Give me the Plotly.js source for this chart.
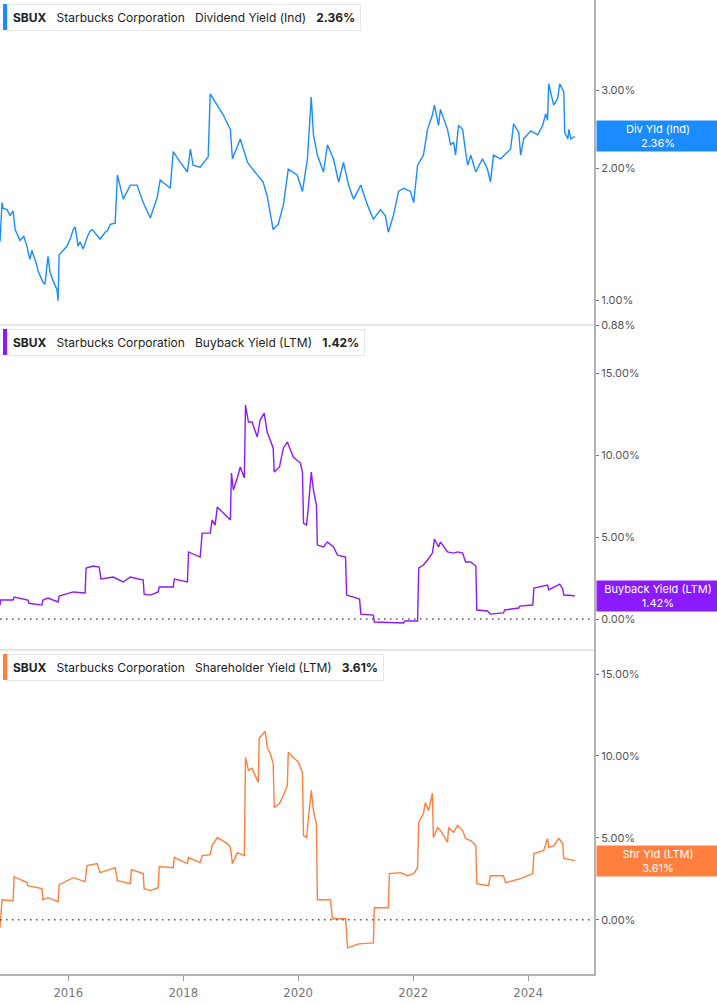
<!DOCTYPE html>
<html>
<head>
<meta charset="utf-8">
<script src="https://cdn.plot.ly/plotly-3.0.1.min.js"></script>
<style>
  html, body { margin: 0; padding: 0; background: #ffffff; }
  #chart { width: 717px; height: 1005px; }
</style>
</head>
<body>
<div id="chart"></div>
<script>
// ---------- DATA ----------
const ticker = 'SBUX';
const company = 'Starbucks Corporation';

const divDates = ['2014-10-24','2014-11-06','2014-11-13','2014-12-08','2014-12-27','2015-01-15','2015-01-28','2015-02-28','2015-03-24','2015-04-13','2015-05-02','2015-05-15','2015-06-16','2015-06-22','2015-07-24','2015-08-06','2015-08-25','2015-09-07','2015-09-26','2015-10-21','2015-10-28','2015-11-04','2015-11-29','2015-12-24','2016-01-13','2016-02-02','2016-02-14','2016-03-03','2016-03-16','2016-04-04','2016-04-29','2016-05-18','2016-06-01','2016-07-02','2016-07-21','2016-08-22','2016-09-05','2016-09-24','2016-10-25','2016-11-08','2016-12-15','2017-01-29','2017-03-13','2017-04-21','2017-06-05','2017-07-18','2017-08-07','2017-10-10','2017-10-29','2017-12-13','2018-01-02','2018-01-27','2018-02-15','2018-03-04','2018-04-18','2018-06-08','2018-06-21','2018-08-05','2018-09-12','2018-10-27','2018-11-09','2018-12-29','2019-02-13','2019-04-16','2019-05-23','2019-06-18','2019-07-26','2019-08-27','2019-09-29','2019-10-30','2019-12-26','2020-01-28','2020-02-29','2020-03-24','2020-04-07','2020-05-02','2020-06-10','2020-07-05','2020-08-12','2020-09-14','2020-10-15','2020-11-16','2020-12-18','2021-02-02','2021-03-16','2021-04-23','2021-06-07','2021-07-08','2021-07-27','2021-08-28','2021-09-30','2021-11-01','2021-12-15','2022-01-04','2022-01-29','2022-03-07','2022-04-02','2022-05-03','2022-05-16','2022-06-11','2022-06-23','2022-08-07','2022-08-26','2022-09-15','2022-09-27','2022-10-16','2022-11-11','2022-11-30','2022-12-13','2023-01-02','2023-02-03','2023-03-17','2023-04-18','2023-05-07','2023-05-26','2023-07-10','2023-08-24','2023-09-12','2023-10-01','2023-11-03','2023-11-15','2023-12-04','2024-01-18','2024-03-02','2024-04-03','2024-04-22','2024-05-04','2024-05-11','2024-06-12','2024-07-07','2024-07-20','2024-08-15','2024-08-21','2024-09-10','2024-09-16','2024-09-29','2024-10-24'];
const divYield = [1.36,1.67,1.62,1.61,1.56,1.60,1.45,1.37,1.40,1.33,1.24,1.30,1.20,1.17,1.10,1.09,1.26,1.16,1.11,1.06,1.00,1.27,1.30,1.33,1.38,1.45,1.47,1.33,1.36,1.31,1.39,1.44,1.45,1.41,1.38,1.43,1.44,1.49,1.50,1.93,1.70,1.83,1.83,1.67,1.54,1.71,1.88,1.80,2.18,2.06,2.01,1.96,2.21,2.03,2.01,2.12,2.95,2.78,2.64,2.45,2.10,2.33,2.06,1.93,1.86,1.73,1.45,1.49,1.65,1.99,1.93,1.77,2.10,2.90,2.38,2.14,1.96,2.26,2.10,1.86,2.06,1.83,1.70,1.83,1.65,1.53,1.61,1.56,1.43,1.56,1.77,1.80,1.77,1.67,2.03,2.14,2.45,2.64,2.78,2.50,2.72,2.45,2.26,2.29,2.14,2.50,2.45,2.18,2.03,2.14,1.96,2.10,1.99,1.86,2.14,2.10,2.18,2.21,2.52,2.41,2.14,2.33,2.43,2.38,2.50,2.66,2.57,3.11,2.78,2.88,3.11,2.98,2.41,2.33,2.45,2.33,2.36];

const buyDates = ['2014-10-24','2014-10-28','2015-01-15','2015-01-22','2015-04-19','2015-04-26','2015-07-17','2015-07-24','2015-08-25','2015-10-28','2015-11-04','2016-02-02','2016-04-17','2016-04-23','2016-06-07','2016-07-15','2016-07-27','2016-10-13','2016-12-15','2017-01-29','2017-04-21','2017-04-27','2017-06-05','2017-07-25','2017-08-01','2017-10-29','2017-11-05','2018-01-27','2018-02-03','2018-04-18','2018-05-01','2018-06-21','2018-07-03','2018-07-22','2018-08-05','2018-09-25','2018-10-27','2018-11-03','2018-11-15','2018-12-10','2018-12-29','2019-01-24','2019-01-31','2019-02-19','2019-03-14','2019-04-16','2019-05-04','2019-05-30','2019-06-18','2019-07-26','2019-08-02','2019-09-04','2019-09-29','2019-10-24','2019-12-01','2020-01-15','2020-01-28','2020-02-04','2020-02-23','2020-03-06','2020-03-24','2020-04-07','2020-04-26','2020-05-02','2020-06-10','2020-07-05','2020-08-12','2020-09-07','2020-10-28','2020-11-04','2021-01-25','2021-02-02','2021-04-23','2021-04-29','2021-11-01','2021-11-08','2022-01-29','2022-02-05','2022-03-07','2022-04-02','2022-05-03','2022-05-16','2022-06-11','2022-06-23','2022-08-07','2022-09-15','2022-10-10','2022-11-11','2022-11-30','2023-01-02','2023-02-03','2023-02-09','2023-04-18','2023-05-07','2023-07-29','2023-08-05','2023-11-03','2023-11-09','2024-01-31','2024-02-07','2024-05-04','2024-05-11','2024-06-12','2024-07-20','2024-08-08','2024-08-15','2024-10-24'];
const buybackYield = [0.85,1.16,1.16,1.34,1.16,0.96,0.85,1.16,1.28,1.04,1.40,1.65,1.59,3.11,3.23,3.17,2.44,2.56,2.26,2.56,2.38,1.52,1.46,1.65,1.95,1.95,2.44,2.26,4.09,3.78,5.24,5.24,6.04,5.73,6.83,6.34,6.04,8.90,7.87,8.60,9.27,8.60,13.05,12.01,12.01,11.10,12.13,12.56,11.40,10.43,8.96,9.27,10.43,10.79,9.88,9.51,8.96,5.85,5.73,6.83,8.96,7.87,6.95,4.51,4.39,4.70,4.39,3.90,3.78,1.46,1.22,0.30,0.24,-0.18,-0.24,-0.12,-0.12,3.11,3.29,3.60,4.02,4.88,4.39,4.70,4.09,4.02,4.09,4.02,3.48,3.48,3.23,0.55,0.49,0.30,0.37,0.55,0.67,0.79,0.85,1.89,2.07,1.77,1.95,2.13,1.83,1.46,1.42];

const shrDates = ['2014-10-24','2014-11-06','2015-01-15','2015-01-22','2015-04-13','2015-04-19','2015-07-17','2015-07-24','2015-08-25','2015-10-28','2015-11-04','2016-02-02','2016-04-17','2016-04-29','2016-07-02','2016-07-21','2016-10-25','2016-11-08','2017-01-29','2017-02-05','2017-04-21','2017-04-27','2017-06-05','2017-07-25','2017-08-01','2017-10-29','2017-11-05','2018-01-27','2018-02-03','2018-04-18','2018-05-01','2018-06-21','2018-07-03','2018-08-05','2018-10-08','2018-10-27','2018-11-09','2018-12-10','2019-01-24','2019-01-31','2019-02-19','2019-03-14','2019-04-16','2019-04-22','2019-04-28','2019-05-23','2019-06-06','2019-06-18','2019-07-07','2019-07-26','2019-08-02','2019-09-04','2019-09-29','2019-10-24','2019-10-30','2019-12-01','2020-01-03','2020-01-28','2020-02-04','2020-02-23','2020-03-06','2020-03-24','2020-04-07','2020-04-26','2020-05-02','2020-07-24','2020-08-06','2020-10-28','2020-11-10','2021-01-19','2021-04-23','2021-04-29','2021-07-27','2021-08-03','2021-10-12','2021-11-26','2022-01-04','2022-01-29','2022-02-05','2022-03-07','2022-03-19','2022-04-08','2022-05-03','2022-05-09','2022-06-05','2022-06-23','2022-08-07','2022-08-14','2022-09-15','2022-10-10','2022-11-11','2022-11-30','2023-01-02','2023-02-03','2023-02-09','2023-04-24','2023-05-07','2023-07-29','2023-08-11','2023-11-15','2024-01-31','2024-02-07','2024-04-09','2024-05-04','2024-05-11','2024-06-12','2024-07-14','2024-08-08','2024-08-15','2024-10-24'];
const shareholderYield = [-0.49,1.22,1.16,2.63,2.27,2.08,1.90,1.22,1.35,1.10,2.14,2.57,2.33,3.31,3.43,2.88,3.18,2.39,2.20,3.06,2.82,1.90,1.78,1.96,3.25,3.18,3.80,3.43,3.80,3.49,3.92,3.98,4.53,5.02,4.65,4.41,3.43,4.10,3.92,9.92,9.12,9.25,8.51,8.39,11.08,11.39,11.51,10.53,10.17,9.55,6.86,7.10,7.59,8.21,10.23,9.92,9.61,9.00,5.14,5.02,6.18,7.90,6.67,5.88,1.22,1.22,0.06,0.06,-1.71,-1.47,-1.41,0.73,0.73,2.82,2.88,2.69,2.82,3.18,5.94,6.49,7.16,6.67,7.72,5.02,5.63,5.45,4.72,5.63,5.33,5.76,5.45,4.96,4.84,4.53,2.20,2.08,2.69,2.69,2.27,2.51,2.82,4.04,4.23,4.96,4.41,4.53,4.96,4.65,3.74,3.61];

const seriesNames = ['Dividend Yield (Ind)', 'Buyback Yield (LTM)', 'Shareholder Yield (LTM)'];
const badgeNames = ['Div Yld (Ind)', 'Buyback Yield (LTM)', 'Shr Yld (LTM)'];
const lastValues = [2.36, 1.42, 3.61];

const yearTickVals = ['2016-01-01','2018-01-01','2020-01-01','2022-01-01','2024-01-01'];
const yearTickText = ['2016','2018','2020','2022','2024'];
const divTickVals = [0.88, 1, 2, 3];
const divTickText = ['0.88%','1.00%','2.00%','3.00%'];
const pctTickVals = [0, 5, 10, 15];
const pctTickText = ['0.00%','5.00%','10.00%','15.00%'];

// ---------- STYLE ----------
const colors = ['#1a8cff', '#8c1aff', '#ff7f3f'];
const W = 717, H = 1005;
const plotW = 594, plotH = 974;
const sep1 = 1 - 325 / plotH, sep2 = 1 - 650 / plotH;
const tickFont = {family: 'Inter, "Noto Sans", sans-serif', size: 11, color: '#555555'};

function yAxis(extra) {
  return Object.assign({
    side: 'right', anchor: 'x', showgrid: false, zeroline: false,
    showline: true, linecolor: '#b3b3b3', linewidth: 2,
    ticks: 'outside', ticklen: 3, tickwidth: 1, tickcolor: '#777777',
    tickfont: tickFont, fixedrange: true
  }, extra);
}

const traces = [
  {x: divDates, y: divYield, xaxis: 'x', yaxis: 'y', type: 'scatter', mode: 'lines',
   line: {color: colors[0], width: 1.4}, hoverinfo: 'skip'},
  {x: buyDates, y: buybackYield, xaxis: 'x', yaxis: 'y2', type: 'scatter', mode: 'lines',
   line: {color: colors[1], width: 1.4}, hoverinfo: 'skip'},
  {x: shrDates, y: shareholderYield, xaxis: 'x', yaxis: 'y3', type: 'scatter', mode: 'lines',
   line: {color: colors[2], width: 1.4}, hoverinfo: 'skip'}
];

const legendTops = [4, 329, 654];
const annotations = [];
const shapes = [];
for (let i = 0; i < 3; i++) {
  const topPaper = 1 - legendTops[i] / plotH;
  annotations.push({
    xref: 'paper', yref: 'paper', x: 7 / plotW, y: topPaper,
    xanchor: 'left', yanchor: 'top', showarrow: false, align: 'left',
    text: '<b>' + ticker + '</b>\u00a0\u00a0\u00a0' + company + '\u00a0\u00a0\u00a0' + seriesNames[i] + '\u00a0\u00a0\u00a0<b>' + lastValues[i].toFixed(2) + '%</b>',
    font: {family: 'Inter, "Noto Sans", sans-serif', size: 12, color: '#222222'},
    bgcolor: '#ffffff', bordercolor: '#e6e6e6', borderwidth: 1, borderpad: 5
  });
  shapes.push({
    type: 'rect', xref: 'paper', yref: 'paper', layer: 'above',
    x0: 3 / plotW, x1: 7 / plotW,
    y0: 1 - (legendTops[i] + 26) / plotH, y1: topPaper,
    fillcolor: colors[i], line: {width: 0}
  });
  annotations.push({
    xref: 'paper', yref: i === 0 ? 'y' : (i === 1 ? 'y2' : 'y3'),
    x: 1 + 1.5 / plotW, y: i === 0 ? Math.log10(lastValues[i]) : lastValues[i],
    xanchor: 'left', yanchor: 'middle', showarrow: false, align: 'center',
    text: badgeNames[i] + '<br>' + lastValues[i].toFixed(2) + '%',
    font: {family: 'Inter, "Noto Sans", sans-serif', size: 11, color: '#ffffff'},
    bgcolor: colors[i], borderpad: 1, width: 120
  });
}
// panel separators
[sep1, sep2].forEach(function (s) {
  shapes.push({type: 'line', xref: 'paper', yref: 'paper', x0: 0, x1: 1, y0: s, y1: s,
    line: {color: '#cccccc', width: 1}});
});
// zero dotted lines
['y2', 'y3'].forEach(function (ax) {
  shapes.push({type: 'line', xref: 'paper', yref: ax, x0: 0, x1: 0.995, y0: 0, y1: 0,
    line: {color: '#555555', width: 1.5, dash: '1.5px,4.5px'}});
});

const layout = {
  width: W, height: H,
  margin: {l: 0, r: W - plotW, t: 0, b: H - plotH, pad: 0},
  paper_bgcolor: '#ffffff', plot_bgcolor: '#ffffff',
  showlegend: false,
  xaxis: {
    type: 'date', anchor: 'y3', domain: [0, 1],
    range: ['2014-10-24', '2025-02-23'],
    tickvals: yearTickVals, ticktext: yearTickText,
    ticks: 'outside', ticklen: 5, tickwidth: 1, tickcolor: '#999999',
    showline: true, linecolor: '#b3b3b3', linewidth: 2,
    showgrid: false, zeroline: false, fixedrange: true,
    tickfont: {family: '"Liberation Sans Narrow", "DejaVu Sans Condensed", sans-serif', size: 13, color: '#777777'}
  },
  yaxis: yAxis({domain: [sep1, 1], type: 'log', range: [Math.log10(0.88), 0.6831],
    tickvals: divTickVals, ticktext: divTickText}),
  yaxis2: yAxis({domain: [sep2, sep1], range: [-1.89, 17.93],
    tickvals: pctTickVals, ticktext: pctTickText}),
  yaxis3: yAxis({domain: [0, sep2], range: [-3.31, 16.47],
    tickvals: pctTickVals, ticktext: pctTickText}),
  shapes: shapes,
  annotations: annotations
};

Plotly.newPlot('chart', traces, layout, {displayModeBar: false, staticPlot: true});
</script>
</body>
</html>
